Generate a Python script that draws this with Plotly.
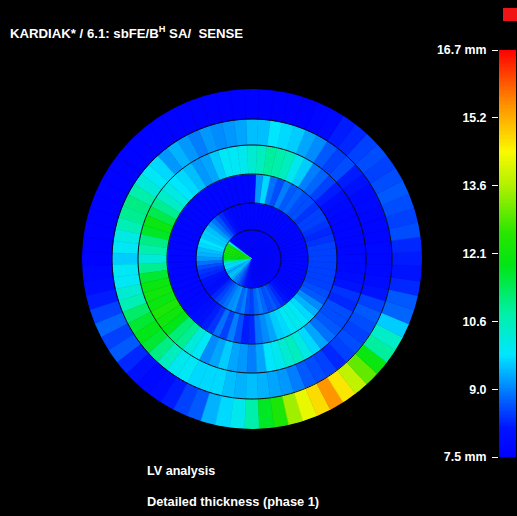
import numpy as np
import plotly.graph_objects as go

# ---------------- data ----------------
# sector centre angles (degrees, counter-clockwise from 3 o'clock), 5-degree sectors
SECTOR_THETA = [5 * k for k in range(72)]

# wall thickness (mm) per ring, innermost (apex) to outermost (base), one value per sector
ring1 = ([7.7] * 29 +
         [10.0, 12.1, 12.3, 12.3, 12.2, 12.1, 12.0, 11.8, 11.2, 10.2, 9.7, 9.8, 9.5, 9.3, 9.5, 9.6,
          9.4, 9.1, 9.0, 8.8, 8.6, 8.4, 8.2, 8.0, 7.9, 7.8] +
         [7.7] * 17)
ring2 = ([7.7] * 23 +
         [7.8, 8.0, 8.3, 8.6, 8.9, 9.2, 9.5, 9.6, 9.6, 9.8, 9.7, 9.5, 9.4, 9.2, 8.9, 8.6, 8.4, 8.3,
          8.1, 8.0, 7.9, 8.0, 8.3, 8.5, 8.7, 8.9, 9.1, 9.2, 8.8, 9.0, 8.6, 8.5, 8.8, 9.0, 8.8, 8.6,
          8.7, 8.5, 8.3, 8.1, 7.9, 7.8] +
         [7.7] * 7)
ring3 = ([8.5, 8.5, 8.5, 8.4, 8.3, 8.4, 8.5, 8.5, 8.4, 8.6, 8.6, 8.8, 8.7, 9.0, 8.6, 8.9, 9.7, 9.2,
          7.8, 7.7] +
         [7.7] * 24 +
         [7.8, 7.9, 8.0, 8.2, 8.4, 8.9, 8.5, 9.0, 8.6, 8.2, 8.3, 8.9, 9.1, 9.3, 9.6, 9.7, 9.9, 10.0,
          9.9, 9.7, 9.4, 9.1, 8.7, 8.6, 8.5, 8.5, 8.5, 8.5])
ring4 = [7.8, 7.7, 7.7, 7.7, 7.7, 7.7, 7.8, 7.9, 8.2, 8.5, 8.8, 9.0, 9.6, 10.0, 10.5, 10.7, 10.8, 10.5,
         10.3, 10.0, 9.9, 9.9, 9.6, 9.3, 9.2, 9.5, 9.7, 9.8, 10.1, 10.4, 10.9, 11.4, 12.0, 11.7, 11.0, 10.7,
         10.2, 10.9, 11.6, 12.0, 12.1, 12.0, 12.3, 12.1, 11.8, 11.1, 10.9, 10.2, 9.9, 9.1, 9.3, 9.6, 9.3, 9.2,
         9.0, 9.3, 9.8, 10.0, 10.3, 10.5, 10.1, 9.7, 9.3, 8.9, 8.7, 8.6, 8.6, 8.3, 8.4, 8.1, 7.9, 7.8]
ring5 = [7.8, 7.8, 7.7, 7.7, 7.7, 7.8, 7.8, 8.0, 8.2, 8.6, 8.5, 8.7, 9.1, 9.3, 9.6, 9.7, 9.8, 9.5,
         9.5, 9.3, 9.2, 9.1, 9.2, 9.0, 9.2, 9.4, 9.2, 9.7, 9.9, 10.2, 10.7, 11.0, 10.9, 10.6, 10.1, 9.9,
         9.6, 9.9, 9.9, 10.3, 10.6, 11.2, 11.6, 11.8, 11.6, 11.0, 10.5, 10.0, 9.9, 9.7, 9.7, 9.7, 9.5, 9.4,
         9.5, 9.4, 9.3, 9.2, 9.0, 8.7, 8.6, 8.5, 8.3, 8.5, 8.6, 8.5, 8.6, 8.7, 8.5, 8.1, 7.9, 7.8]
ring6 = ([8.2, 8.3, 8.6, 8.5, 8.6, 8.7, 8.6, 8.5, 8.6, 8.5, 8.3, 8.2, 7.8, 7.7] +
         [7.6] * 23 +
         [7.8, 7.9, 8.2, 8.5, 8.8, 8.5, 8.7, 8.3, 8.0, 7.8, 7.9, 8.2, 8.5, 8.7, 9.4, 9.7, 10.0, 10.7,
          11.7, 12.3, 13.5, 14.2, 14.7, 15.4, 14.6, 13.8, 13.0, 12.0, 10.8, 10.4, 9.6, 8.8, 8.7, 8.3, 8.1])
RINGS = [ring1, ring2, ring3, ring4, ring5, ring6]

VMIN, VMAX = 7.5, 16.7
TICK_LABELS = ["7.5 mm", "9.0", "10.6", "12.1", "13.6", "15.2", "16.7 mm"]

# ---------------- geometry / style ----------------
RING_EDGES = [0, 29, 56, 85, 114, 140, 170]
SECTOR_WIDTH = 5
W, H = 517, 516
FONT = "Liberation Sans, Arial, sans-serif"

COLORSCALE = [
    [0.00, "rgb(0,0,255)"],
    [0.07, "rgb(0,20,255)"],
    [0.15, "rgb(0,110,255)"],
    [0.25, "rgb(0,230,255)"],
    [0.35, "rgb(0,240,170)"],
    [0.47, "rgb(0,230,20)"],
    [0.55, "rgb(40,230,0)"],
    [0.66, "rgb(170,240,0)"],
    [0.75, "rgb(250,250,0)"],
    [0.87, "rgb(255,140,0)"],
    [1.00, "rgb(255,0,0)"],
]

fig = go.Figure()

for inner, outer, vals in zip(RING_EDGES[:-1], RING_EDGES[1:], RINGS):
    n = len(vals)
    fig.add_trace(go.Barpolar(
        r=[outer - inner] * n,
        base=[inner] * n,
        theta=SECTOR_THETA,
        width=[SECTOR_WIDTH] * n,
        marker=dict(color=vals, coloraxis="coloraxis",
                    line=dict(color=vals, coloraxis="coloraxis", width=0.6)),
        hoverinfo="skip",
        showlegend=False,
    ))

# thin black ring separators
circ = np.linspace(0, 360, 361)
for edge in RING_EDGES[1:-1]:
    fig.add_trace(go.Scatterpolar(
        r=[edge] * len(circ), theta=circ, mode="lines",
        line=dict(color="rgb(10,10,20)", width=1), hoverinfo="skip", showlegend=False,
    ))

# colour bar drawn as a heatmap on its own axes (labels on the left)
levels = np.linspace(VMIN, VMAX, 300)
fig.add_trace(go.Heatmap(
    z=[[v] for v in levels], y=levels, x=[0],
    coloraxis="coloraxis", hoverinfo="skip", xaxis="x", yaxis="y",
))

fig.update_layout(
    width=W, height=H,
    margin=dict(l=0, r=0, t=0, b=0, pad=0, autoexpand=False),
    paper_bgcolor="black", plot_bgcolor="black",
    coloraxis=dict(colorscale=COLORSCALE, cmin=VMIN, cmax=VMAX, showscale=False),
    polar=dict(
        domain=dict(x=[82 / W, 422 / W], y=[(H - 429) / H, (H - 89) / H]),
        bgcolor="black",
        radialaxis=dict(visible=False, range=[0, RING_EDGES[-1]]),
        angularaxis=dict(visible=False, direction="counterclockwise", rotation=0),
    ),
    xaxis=dict(domain=[499 / W, 516 / W], visible=False, range=[-0.5, 0.5],
               fixedrange=True, automargin=False),
    yaxis=dict(
        domain=[(H - 457) / H, (H - 50) / H], range=[VMIN, VMAX], side="left",
        tickvals=list(np.linspace(VMIN, VMAX, 7)), ticktext=TICK_LABELS,
        ticks="outside", ticklen=6, tickcolor="white", tickwidth=1,
        tickfont=dict(color="white", size=12.4, family=FONT, weight="bold"),
        showgrid=False, zeroline=False, showline=False, ticklabelstandoff=3,
        automargin=False, fixedrange=True,
    ),
    shapes=[dict(type="rect", xref="paper", yref="paper",
                 x0=503 / W, x1=1.0, y0=1 - 21 / H, y1=1 - 8 / H,
                 fillcolor="rgb(240,20,20)", line=dict(width=0))],
    annotations=[
        dict(text="KARDIAK* / 6.1: sbFE/B<sup>H</sup> SA/\u00a0 SENSE", x=8 / W, y=1 - 32 / H,
             xref="paper", yref="paper", xanchor="left", yanchor="middle", showarrow=False,
             font=dict(color="white", size=13.2, family=FONT, weight="bold")),
        dict(text="LV analysis", x=145 / W, y=1 - 471 / H,
             xref="paper", yref="paper", xanchor="left", yanchor="middle", showarrow=False,
             font=dict(color="white", size=12.6, family=FONT, weight="bold")),
        dict(text="Detailed thickness (phase 1)", x=145 / W, y=1 - 501 / H,
             xref="paper", yref="paper", xanchor="left", yanchor="middle", showarrow=False,
             font=dict(color="white", size=12.8, family=FONT, weight="bold")),
    ],
)

fig.write_html(
    "out.html",
    config={"displayModeBar": False},
    post_script="document.body.style.margin='0';document.body.style.background='black';"
                "document.body.style.overflow='hidden';",
)
